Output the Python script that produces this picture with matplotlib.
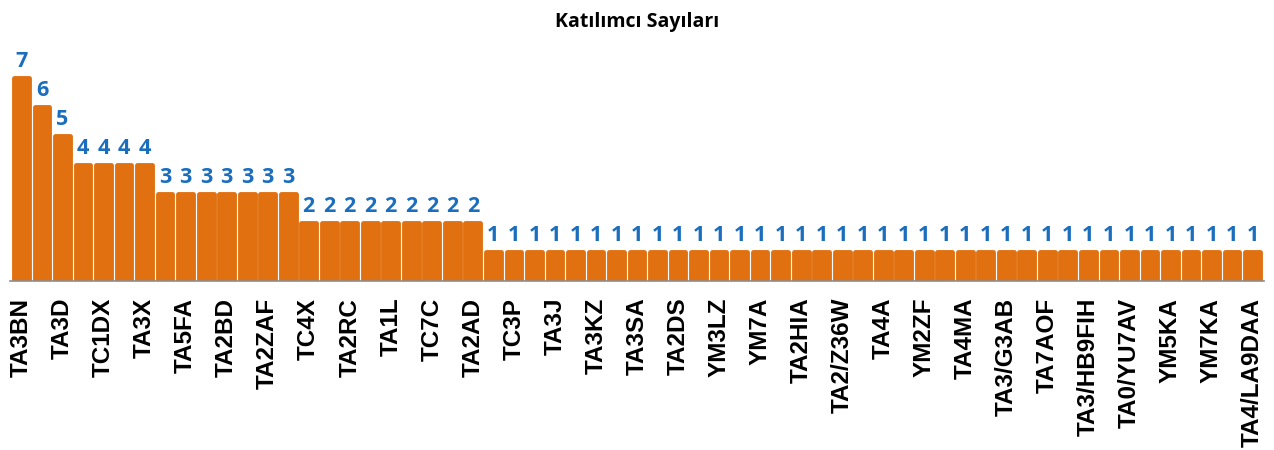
import matplotlib
matplotlib.use("Agg")
import matplotlib.pyplot as plt
import numpy as np

title = "Katılımcı Sayıları"
# counts per participant, sorted descending (61 bars)
counts = [7, 6, 5] + [4] * 4 + [3] * 7 + [2] * 9 + [1] * 38
# only every other category label is visible in the chart
shown_labels = ["TA3BN", "TA3D", "TC1DX", "TA3X", "TA5FA", "TA2BD", "TA2ZAF",
                "TC4X", "TA2RC", "TA1L", "TC7C", "TA2AD", "TC3P", "TA3J",
                "TA3KZ", "TA3SA", "TA2DS", "YM3LZ", "YM7A", "TA2HIA",
                "TA2/Z36W", "TA4A", "YM2ZF", "TA4MA", "TA3/G3AB", "TA7AOF",
                "TA3/HB9FIH", "TA0/YU7AV", "YM5KA", "YM7KA", "TA4/LA9DAA"]

bar_color = "#E07010"
label_color = "#1A6EBD"

fig = plt.figure(figsize=(12.74, 4.5), dpi=100)
ax = fig.add_axes([0.008, 0.3756, 0.984, 0.535])

x = np.arange(len(counts))
bars = ax.bar(x, counts, width=0.72, color=bar_color, edgecolor=bar_color,
              linewidth=3.5, joinstyle="round")
ax.bar_label(bars, labels=[str(v) for v in counts], padding=4,
             color=label_color, fontsize=15.5, fontweight="bold",
             family="Open Sans")

ax.set_xlim(-0.55, len(counts) - 0.45)
ax.set_ylim(0, 8.3)
ax.set_xticks(x[::2])
ax.set_xticklabels(shown_labels, rotation=90, fontsize=17.5, fontweight="bold",
                   family="Liberation Sans")
ax.tick_params(axis="x", length=0, pad=12)
ax.set_yticks([])
for s in ["top", "left", "right"]:
    ax.spines[s].set_visible(False)
ax.spines["bottom"].set_color("#8C8C8C")
ax.spines["bottom"].set_linewidth(1.2)
ax.spines["bottom"].set_zorder(5)

fig.text(0.5, 0.951, title, ha="center", va="center", fontsize=14,
         fontweight="bold", family="Open Sans")

fig.savefig("out.png", dpi=100)
